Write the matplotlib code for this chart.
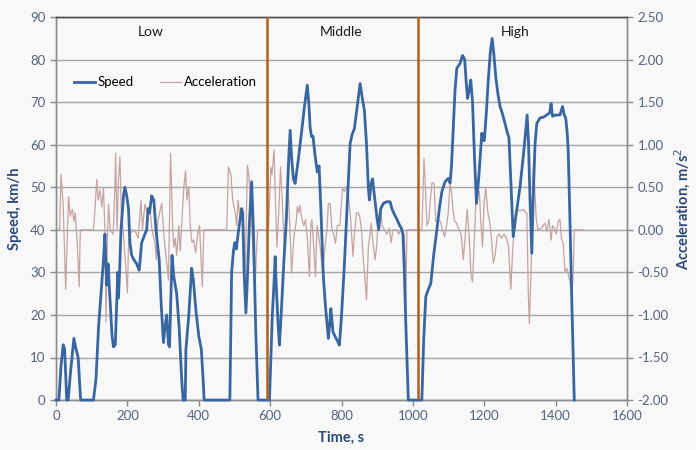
import matplotlib
matplotlib.use("Agg")
import matplotlib.pyplot as plt
from matplotlib.lines import Line2D
from matplotlib.ticker import FormatStrFormatter

plt.rcParams["font.family"] = ["Lato", "DejaVu Sans"]

# Vehicle speed trace (time in s, speed in km/h)
speed_t = [0, 8, 14, 20, 24, 30, 34, 40, 50, 56, 62, 69, 105, 112, 119, 126, 133, 137,
           142, 146, 151, 157, 161, 166, 171, 173, 175, 178, 182, 189, 193, 198, 203, 207,
           212, 218, 226, 233, 240, 249, 254, 258, 262, 268, 274, 280, 289, 295, 301, 305,
           310, 315, 318, 325, 330, 338, 345, 352, 356, 362, 364, 372, 380, 385, 392, 400,
           407, 412, 415, 487, 492, 497, 501, 505, 510, 520, 523, 527, 532, 536, 542, 548,
           553, 560, 566, 598, 606, 611, 614, 618, 622, 626, 632, 638, 645, 652, 656, 660,
           665, 670, 678, 688, 696, 704, 708, 712, 716, 720, 725, 732, 737, 742, 749, 755,
           763, 767, 770, 776, 782, 788, 794, 800, 808, 816, 824, 830, 836, 844, 852, 858,
           864, 870, 875, 878, 883, 887, 892, 899, 904, 910, 917, 926, 936, 941, 946, 955,
           963, 968, 972, 976, 980, 984, 987, 1025, 1030, 1036, 1043, 1050, 1058, 1067,
           1074, 1081, 1090, 1099, 1104, 1108, 1113, 1118, 1123, 1132, 1139, 1145, 1149,
           1153, 1158, 1162, 1167, 1172, 1178, 1185, 1193, 1197, 1200, 1206, 1211, 1217,
           1222, 1227, 1232, 1238, 1244, 1250, 1258, 1264, 1269, 1275, 1281, 1288, 1300,
           1310, 1320, 1324, 1328, 1333, 1337, 1342, 1347, 1356, 1366, 1375, 1383, 1387,
           1391, 1400, 1412, 1419, 1424, 1428, 1432, 1435, 1440, 1445, 1449, 1452]
speed_v = [0, 0, 8, 13, 12, 0, 0, 6, 14.5, 12, 10, 0, 0, 5, 17, 25, 33, 39,
           27, 32, 24, 15, 12.5, 13, 25, 30, 24, 30, 40, 48, 50, 48, 45, 37,
           34, 33, 32, 30.5, 37, 39, 40, 45, 44, 48, 47, 40, 33, 22, 13.5, 17,
           20, 13, 12.5, 34, 29, 25, 17, 5, 0, 0, 12, 20, 31, 28, 21, 15,
           12, 5, 0, 0, 30, 35, 37, 35.5, 39, 45, 44, 30, 20.5, 28, 42, 51.3,
           40, 15, 0, 0, 20, 28, 33.7, 25, 18, 12.9, 22, 32, 42, 57, 63.4, 57,
           52, 50.9, 56, 63, 69, 74, 70, 64, 61.9, 62, 58, 53.6, 55, 45, 29, 22,
           14.5, 18, 21.5, 16, 14.9, 14, 12.9, 20, 32, 46, 60.3, 62.5, 63.8, 69, 74.4, 71,
           68, 60, 50, 47, 51, 52, 48, 43, 40, 45, 46.2, 46.6, 46.6, 45, 44, 42.5,
           41, 40.3, 39, 30, 18, 8, 0, 0, 14, 24.3, 26, 27.4, 34, 40,
           45, 49, 51.3, 52.1, 51, 55, 64, 73, 78, 79.1, 81, 80, 75,
           70.9, 73, 75.2, 70, 58, 46.2, 53, 62.7, 61, 61, 68, 75.2, 82,
           85, 81, 76, 72, 69, 67.5, 65, 63, 61.6, 50, 38.4, 43, 50.1,
           58, 67, 60, 47, 34.5, 48, 60, 65, 66.3, 66.5, 67, 67.5, 69.7,
           66.7, 67, 67, 69, 67, 66.3, 63, 58.7, 42, 23.5, 10, 0]

# Acceleration trace (time in s, acceleration in m/s2)
accel_t = [0, 10, 14, 20, 27, 35, 40, 46, 50, 54, 60, 65, 68, 105, 110, 114, 118, 123,
           128, 133, 137, 140, 144, 147, 152, 160, 165, 167, 171, 175, 179, 183, 188, 193,
           200, 204, 208, 214, 224, 230, 238, 242, 249, 256, 263, 269, 277, 281, 285, 296,
           303, 309, 315, 321, 327, 330, 334, 338, 344, 348, 354, 358, 363, 367, 372, 376,
           381, 386, 391, 397, 402, 410, 414, 478, 483, 490, 495, 502, 506, 510, 514, 518,
           524, 530, 536, 540, 545, 550, 557, 561, 565, 595, 602, 605, 611, 615, 619, 624,
           629, 633, 636, 640, 645, 651, 655, 660, 666, 673, 676, 680, 683, 688, 694, 699,
           704, 710, 714, 717, 722, 727, 731, 735, 740, 747, 751, 755, 759, 763, 768, 773,
           778, 783, 788, 795, 803, 808, 813, 818, 825, 832, 837, 842, 847, 851, 856, 860,
           866, 870, 875, 879, 883, 888, 894, 898, 903, 909, 914, 920, 927, 934, 939, 944,
           953, 960, 966, 975, 978, 980, 983, 1025, 1031, 1035, 1039, 1044, 1048, 1053,
           1059, 1064, 1071, 1077, 1083, 1089, 1094, 1099, 1104, 1108, 1112, 1117, 1122,
           1129, 1135, 1141, 1146, 1152, 1157, 1163, 1167, 1173, 1178, 1186, 1190, 1195,
           1199, 1204, 1210, 1215, 1220, 1225, 1230, 1236, 1242, 1248, 1255, 1262, 1268,
           1274, 1280, 1286, 1292, 1300, 1310, 1316, 1319, 1323, 1326, 1331, 1334, 1337,
           1340, 1345, 1350, 1360, 1370, 1375, 1381, 1387, 1391, 1396, 1401, 1407, 1412,
           1416, 1421, 1426, 1431, 1435, 1440, 1445, 1449, 1452, 1477]
accel_a = [0, 0, 0.65, 0.3, -0.70, 0.39, 0.16, 0.24, 0.1, 0.2, -0.2, -0.67, 0, 0, 0.3, 0.59, 0.35, 0.47,
           0.27, 0.49, 0, -1.08, -0.1, 0.3, 0, -0.05, 0.5, 0.90, 0, 0.6, 0.86, 0.2, 0, -0.3,
           -0.74, 0, -0.05, 0.0, -0.03, -0.1, 0.35, 0, 0.3, 0.18, 0.25, 0, -0.15, -0.35, 0.1, 0.31,
           -0.1, -0.35, -0.59, 0.90, 0, -0.2, -0.1, -0.3, 0.05, -0.25, 0.2, 0.5, 0.69, 0.35, 0.51, 0.05,
           -0.15, -0.12, -0.27, -0.05, 0.05, -0.67, 0, 0, 0.74, 0.65, 0.35, 0.2, 0.05, 0.35, 0.2, 0.1,
           0.2, -0.59, 0.76, 0.65, 0.35, -0.1, -0.78, -0.3, 0, 0, 0.74, 0.65, 0.94, 0.3, -0.2, 0.2,
           0.74, 0.4, 0.15, -0.25, 0.1, 0.43, 0.05, -0.51, -0.1, 0.1, 0.27, 0.2, 0.29, 0.15, 0.05, 0.12,
           -0.1, -0.55, 0.05, 0.12, -0.2, -0.55, 0.05, -0.05, -0.2, -0.51, -0.3, -0.15, 0.0, 0.31, 0.31, 0.0,
           -0.05, -0.16, 0.05, 0.05, 0.49, 0.45, 0.5, 0.45, 0.15, -0.31, 0.0, 0.2, 0.2, 0.15, 0.0, -0.3,
           -0.6, -0.82, -0.2, -0.08, 0.08, -0.15, -0.35, -0.2, 0.12, 0.27, 0.05, 0.0, -0.05, 0.02, -0.15, 0.0,
           0.0, -0.05, 0.0, -0.05, -0.3, -0.90, 0, 0, 0.84, 0.5, 0.05, 0.1, 0.3, 0.55,
           0.55, 0.1, 0.12, 0.1, 0.0, -0.08, 0.05, 0.2, 0.55, 0.45, 0.24, 0.1, 0.08,
           0.0, -0.05, -0.35, -0.1, 0.24, -0.05, -0.55, -0.61, 0.0, 0.49, 0.45, 0.1, -0.2,
           0.3, 0.49, 0.2, 0.1, -0.1, -0.39, -0.3, -0.08, -0.05, -0.1, -0.05, -0.1, -0.2,
           -0.70, -0.2, 0.1, 0.24, 0.22, 0.24, 0.2, 0.2, -0.7, -1.10, -0.5, 0.2, 0.74,
           0.6, 0.15, 0.0, 0.02, 0.08, -0.02, 0.12, -0.12, 0.05, 0.02, -0.05, 0.1, 0.12,
           -0.1, -0.16, -0.5, -0.45, -0.52, -0.6, -0.82, -0.5, 0, 0]

# Phase boundaries and labels
phase_bounds = [590, 1013]
phase_names = ["Low", "Middle", "High"]
phase_label_x = [265, 800, 1285]

speed_ticks = list(range(0, 91, 10))
accel_ticks = [-2.0, -1.5, -1.0, -0.5, 0.0, 0.5, 1.0, 1.5, 2.0, 2.5]
time_ticks = list(range(0, 1601, 200))

BG = "#f8f8f8"
TICK_COLOR = "#55637e"
LABEL_COLOR = "#2c4a78"
SPEED_COLOR = "#3866a1"
ACCEL_COLOR = "#c4a3a0"
GRID_COLOR = "#a6a6a6"

fig = plt.figure(figsize=(6.96, 4.50), dpi=100, facecolor=BG)
ax2 = fig.add_axes([0.0805, 0.111, 0.8205, 0.851])
ax = ax2.twinx()
ax2.yaxis.tick_right()
ax2.yaxis.set_label_position("right")
ax.yaxis.tick_left()
ax.yaxis.set_label_position("left")

ax2.set_facecolor(BG)
ax.patch.set_visible(False)

# acceleration (right scale) underneath
ax2.plot(accel_t, accel_a, color=ACCEL_COLOR, lw=0.9, zorder=2)
ax2.set_ylim(-2.0, 2.5)
ax2.set_yticks(accel_ticks)
ax2.yaxis.set_major_formatter(FormatStrFormatter("%.2f"))
ax2.set_xlim(0, 1600)
ax2.set_xticks(time_ticks)
ax2.grid(axis="y", color=GRID_COLOR, lw=1.0, zorder=0)
ax2.set_axisbelow(True)

# speed (left scale) on top
ax.plot(speed_t, speed_v, color=SPEED_COLOR, lw=2.0, zorder=3, clip_on=False,
        solid_joinstyle="round")
ax.set_ylim(0, 90)
ax.set_yticks(speed_ticks)
ax.set_xlim(0, 1600)

for xb in phase_bounds:
    ax.axvline(xb, color="#b0601c", lw=1.8, zorder=4)

for name, xl in zip(phase_names, phase_label_x):
    ax.text(xl, 86.5, name, ha="center", va="center", fontsize=10, color="#1a1a1a")

for a in (ax, ax2):
    for side in ("left", "right", "bottom"):
        a.spines[side].set_color("#8c8c8c")
        a.spines[side].set_linewidth(1.0)
    a.spines["top"].set_color("#505050")
    a.spines["top"].set_linewidth(1.0)
    a.tick_params(colors="#8c8c8c", labelcolor=TICK_COLOR, labelsize=9.5,
                  direction="out", length=4, width=1)

ax.set_ylabel("Speed, km/h", color=LABEL_COLOR, fontsize=10.5, fontweight="bold", labelpad=6)
ax2.set_ylabel("Acceleration, m/s$^2$", color=LABEL_COLOR, fontsize=10.5,
               fontweight="bold", labelpad=3)
ax2.set_xlabel("Time, s", color=LABEL_COLOR, fontsize=10.5, fontweight="bold", labelpad=6)

handles = [Line2D([], [], color=SPEED_COLOR, lw=2.0),
           Line2D([], [], color=ACCEL_COLOR, lw=0.9)]
ax.legend(handles, ["Speed", "Acceleration"], loc="center left",
          bbox_to_anchor=(0.01, 0.83), ncol=2, frameon=False, fontsize=9.5,
          handlelength=1.6, handletextpad=0.2, columnspacing=2.0)

fig.savefig("out.png", dpi=100, facecolor=BG)
